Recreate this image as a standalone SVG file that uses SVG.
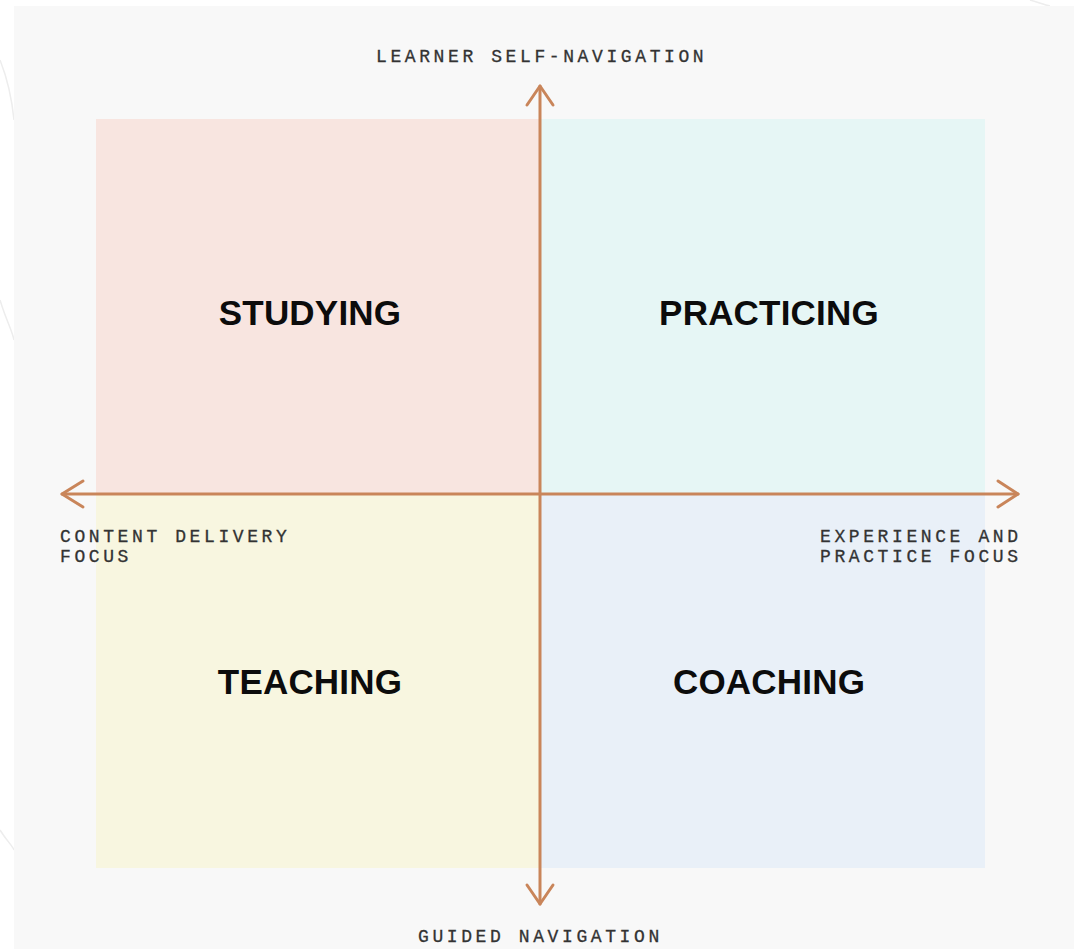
<svg xmlns="http://www.w3.org/2000/svg" width="1074" height="949" viewBox="0 0 1074 949">
  <style>
    .axis { fill: none; stroke: #c9855a; stroke-width: 3; stroke-linecap: round; stroke-linejoin: round; }
    .title { font-family: "Liberation Sans", Arial, sans-serif; font-weight: bold; font-size: 35px; fill: #0c0c0c; text-anchor: middle; letter-spacing: 0.2px; }
    .axis-label { font-family: "Liberation Mono", "DejaVu Sans Mono", monospace; font-size: 18px; fill: #333333; stroke: #333333; stroke-width: 0.3; letter-spacing: 3.6px; }
    .deco { fill: none; stroke: #ededed; stroke-width: 1.5; }
  </style>

  <!-- page background with faint decorative strokes -->
  <rect x="0" y="0" width="1074" height="949" fill="#ffffff"/>
  <path class="deco" d="M0 60 C 8 80, 12 100, 14 120"/>
  <path class="deco" d="M0 300 C 6 320, 12 330, 14 340"/>
  <path class="deco" d="M0 830 C 6 840, 12 845, 14 850"/>
  <path class="deco" d="M1030 0 C 1040 3, 1045 5, 1050 6"/>

  <!-- chart panel -->
  <rect x="14" y="6" width="1060" height="943" fill="#f8f8f8"/>

  <!-- quadrants -->
  <g id="studying">
    <rect x="96" y="119" width="444" height="375" fill="#f8e5e0"/>
    <text class="title" x="310" y="325">STUDYING</text>
  </g>
  <g id="practicing">
    <rect x="540" y="119" width="445" height="375" fill="#e6f6f5"/>
    <text class="title" x="769" y="325">PRACTICING</text>
  </g>
  <g id="teaching">
    <rect x="96" y="494" width="444" height="374" fill="#f8f6e0"/>
    <text class="title" x="310" y="694">TEACHING</text>
  </g>
  <g id="coaching">
    <rect x="540" y="494" width="445" height="374" fill="#e9f0f8"/>
    <text class="title" x="769" y="694">COACHING</text>
  </g>

  <!-- axes -->
  <g id="connectors">
    <path class="axis" d="M540 86 L540 904"/>
    <path class="axis" d="M527 105 L540 86 L553 105"/>
    <path class="axis" d="M527 885 L540 904 L553 885"/>
    <path class="axis" d="M62 494 L1018 494"/>
    <path class="axis" d="M83 481 L62 494 L83 507"/>
    <path class="axis" d="M998 481 L1018 494 L998 507"/>
  </g>

  <!-- axis labels -->
  <g id="label-top">
    <text class="axis-label" x="376" y="62">LEARNER SELF-NAVIGATION</text>
  </g>
  <g id="label-bottom">
    <text class="axis-label" x="418" y="942">GUIDED NAVIGATION</text>
  </g>
  <g id="label-left">
    <text class="axis-label" x="60" y="542">CONTENT DELIVERY</text>
    <text class="axis-label" x="60" y="562">FOCUS</text>
  </g>
  <g id="label-right">
    <text class="axis-label" x="820" y="542">EXPERIENCE AND</text>
    <text class="axis-label" x="820" y="562">PRACTICE FOCUS</text>
  </g>
</svg>
